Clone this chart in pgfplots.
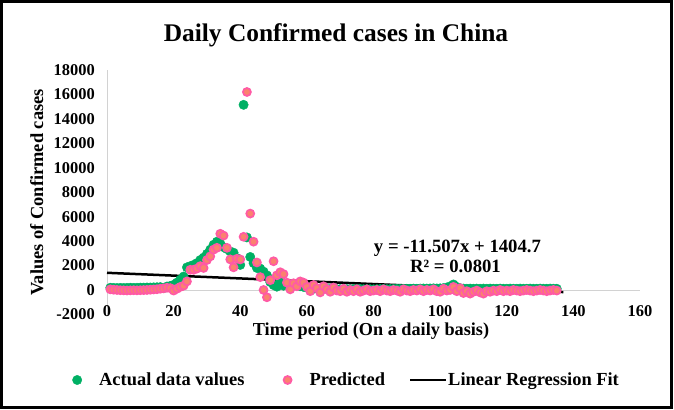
\documentclass[border=0pt]{standalone}
\usepackage{fontspec}
\setmainfont{Liberation Serif}
\usepackage{pgfplots}
\pgfplotsset{compat=1.18}
\definecolor{actg}{RGB}{0,176,100}
\definecolor{predp}{RGB}{255,90,165}
\definecolor{predf}{RGB}{250,130,110}
\definecolor{axgray}{RGB}{210,210,210}
\pgfplotsset{
  markleg/.style={legend image code/.code={\path[draw=none,fill=none] (0bp,-1bp) rectangle (27bp,1bp);\draw[##1] plot coordinates {(5bp,0bp)};}},
  lineleg/.style={legend image code/.code={\path[draw=none,fill=none] (0bp,-1bp) rectangle (38bp,1bp);\draw[##1] (0bp,0bp) -- (36bp,0bp);}},
}

\pgfplotstableread{
x y
1 180
2 170
3 160
4 170
5 160
6 170
7 180
8 170
9 180
10 190
11 190
12 200
13 200
14 210
15 220
16 230
17 150
18 280
19 330
20 420
21 600
22 850
23 1100
24 1850
25 1950
26 2050
27 2200
28 2450
29 2650
30 2950
31 3300
32 3700
33 3950
34 3800
35 3500
36 3350
37 3150
38 3050
39 2600
40 2050
41 15150
42 4300
43 2700
44 2200
45 1800
46 1750
47 1500
48 1200
49 650
50 400
51 270
52 800
53 350
54 500
55 450
56 400
57 350
58 300
59 250
60 200
61 150
62 100
63 120
64 80
65 100
66 90
67 70
68 80
69 60
70 60
71 50
72 60
73 50
74 70
75 60
76 80
77 60
78 70
79 60
80 50
81 60
82 70
83 80
84 60
85 70
86 80
87 90
88 80
89 90
90 100
91 100
92 110
93 100
94 110
95 120
96 110
97 120
98 130
99 120
100 130
101 150
102 200
103 300
104 450
105 250
106 150
107 110
108 100
109 110
110 100
111 110
112 100
113 110
114 100
115 110
116 100
117 100
118 110
119 100
120 100
121 110
122 100
123 100
124 110
125 100
126 100
127 110
128 100
129 100
130 110
131 100
132 100
133 110
134 100
135 100
}\actual

\pgfplotstableread{
x y
1 50
2 20
3 0
4 -20
5 -30
6 -40
7 -30
8 -20
9 -30
10 -20
11 -10
12 0
13 20
14 40
15 60
16 100
17 130
18 180
19 150
20 -50
21 100
22 250
23 350
24 700
25 1650
26 1650
27 1750
28 1950
29 1800
30 2450
31 2750
32 3300
33 3450
34 4600
35 4450
36 3450
37 2500
38 1850
39 2550
40 2500
41 4350
42 16200
43 6250
44 3950
45 2250
46 1050
47 0
48 -600
49 800
50 2350
51 1200
52 1450
53 1300
54 600
55 50
56 550
57 300
58 700
59 600
60 250
61 -100
62 400
63 150
64 -200
65 300
66 50
67 -150
68 200
69 -50
70 -100
71 100
72 -150
73 0
74 -100
75 50
76 -150
77 -50
78 50
79 -100
80 -50
81 0
82 -100
83 50
84 -50
85 -100
86 0
87 -50
88 -150
89 50
90 -50
91 -100
92 0
93 -50
94 50
95 -100
96 0
97 -50
98 50
99 -100
100 -150
101 100
102 -50
103 0
104 250
105 -100
106 150
107 -250
108 -100
109 -300
110 -150
111 -50
112 -200
113 -300
114 -100
115 -150
116 -50
117 -100
118 0
119 -100
120 -50
121 -100
122 0
123 -50
124 -100
125 -50
126 0
127 -50
128 -100
129 -50
130 0
131 -50
132 -100
133 -50
134 0
135 -50
}\predicted

\pgfplotstableread{
x y
0 1404.7
137 -171.76
}\fitline

\begin{document}
\begin{tikzpicture}[x=1bp,y=1bp]
\useasboundingbox (0,0) rectangle (674,409);
\begin{axis}[
  at={(107bp,94.6bp)}, anchor=south west,
  scale only axis, width=533bp, height=244.4bp,
  xmin=0, xmax=160, ymin=-2000, ymax=18000,
  scaled y ticks=false, scaled x ticks=false,
  xtick={0,20,40,60,80,100,120,140,160},
  xticklabels={0,20,40,60,80,100,120,140,160},
  ytick={-2000,0,2000,4000,6000,8000,10000,12000,14000,16000,18000},
  yticklabels={-2000,0,2000,4000,6000,8000,10000,12000,14000,16000,18000},
  axis lines*=left,
  x axis line style={draw=none},
  y axis line style={draw=axgray, line width=0.8bp},
  major tick length=0pt,
  clip=false,
  ticklabel style={font=\fontsize{16.5}{18}\selectfont\bfseries},
  yticklabel style={anchor=east, inner sep=0pt, xshift=-12bp},
  xticklabel style={anchor=center, inner sep=0pt, yshift=3.4bp},
  legend columns=3,
  legend cell align=left,
  legend style={draw=none, fill=none, inner sep=0pt,
    nodes={inner sep=0pt},
    at={(-0.0657,-0.2684)}, anchor=west,
    font=\fontsize{18.5}{20}\selectfont\bfseries,
    /tikz/column 2/.style={column sep=38bp},
    /tikz/column 4/.style={column sep=24bp}},
]
\draw[axgray, line width=0.8bp] (axis cs:0,0) -- (axis cs:160,0);
\addplot[only marks, mark=*, mark size=4.7bp,
  mark options={fill=actg, draw=actg}, markleg]
  table {\actual};
\addlegendentry{Actual data values}
\addplot[only marks, mark=*, mark size=4bp,
  mark options={fill=predf, draw=predp, line width=1.7bp}, markleg]
  table {\predicted};
\addlegendentry{Predicted}
\addplot[black, line width=2.5bp, no marks, lineleg]
  table {\fitline};
\addlegendentry{Linear Regression Fit}
\end{axis}
\node[anchor=base, font=\fontsize{25.5}{28}\selectfont\bfseries] at (336,368) {Daily Confirmed cases in China};
\node[anchor=base, font=\fontsize{18.3}{20}\selectfont\bfseries] at (371,74) {Time period (On a daily basis)};
\node[anchor=base, rotate=90, font=\fontsize{18.5}{20}\selectfont\bfseries] at (43,216.5) {Values of Confirmed cases};
\node[anchor=base, font=\fontsize{18.8}{20}\selectfont\bfseries] at (457.5,157) {y = -11.507x + 1404.7};
\node[anchor=base, font=\fontsize{18.8}{20}\selectfont\bfseries] at (455.5,137) {R² = 0.0801};
\draw[line width=3bp] (1.5,1.5) rectangle (671,407.5);
\end{tikzpicture}
\end{document}
